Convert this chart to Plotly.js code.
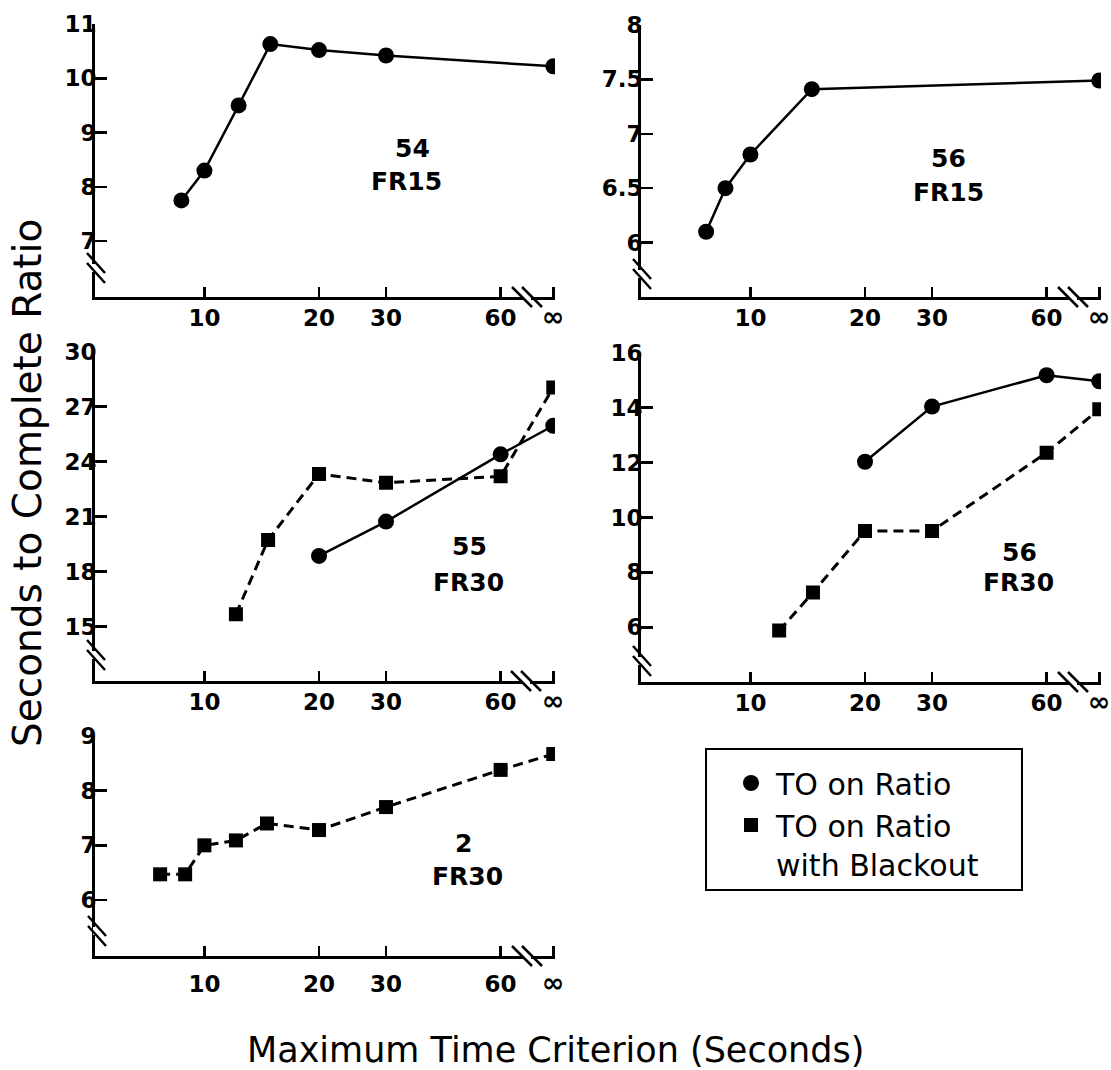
<!DOCTYPE html>
<html>
<head>
<meta charset="utf-8">
<script src="https://cdn.plot.ly/plotly-3.0.1.min.js"></script>
<style>html,body{margin:0;padding:0;background:#fff;}#chart{width:1111px;height:1070px;}</style>
</head>
<body>
<div id="chart"></div>
<script>
// ---- Data ----
// The "∞" condition is drawn at this x value on the log axis, past the axis break.
const INF_X = 82.5;
const xTickVals = [10, 20, 30, 60, INF_X];
const xTickText = ['10', '20', '30', '60', '<span style="font-size:27px">\u221e</span>'];

// Subject 54, FR15 (TO on Ratio)
const s54fr15_x = [8.7, 10, 12.3, 14.9, 20, 30, INF_X];
const s54fr15_ratio = [7.75, 8.3, 9.5, 10.63, 10.52, 10.42, 10.22];

// Subject 56, FR15 (TO on Ratio)
const s56fr15_x = [7.65, 8.6, 10, 14.5, INF_X];
const s56fr15_ratio = [6.1, 6.5, 6.81, 7.41, 7.49];

// Subject 55, FR30
const s55fr30_ratio_x = [20, 30, 60, INF_X];
const s55fr30_ratio = [18.86, 20.73, 24.4, 25.96];
const s55fr30_black_x = [12.1, 14.7, 20, 30, 60, INF_X];
const s55fr30_black = [15.68, 19.73, 23.33, 22.85, 23.2, 28.04];

// Subject 56, FR30
const s56fr30_ratio_x = [20, 30, 60, INF_X];
const s56fr30_ratio = [12.03, 14.04, 15.18, 14.96];
const s56fr30_black_x = [11.9, 14.6, 20, 30, 60, INF_X];
const s56fr30_black = [5.88, 7.27, 9.51, 9.51, 12.36, 13.94];

// Subject 2, FR30 (TO on Ratio with Blackout)
const s2fr30_black_x = [7.65, 8.9, 10, 12.1, 14.6, 20, 30, 60, INF_X];
const s2fr30_black = [6.47, 6.47, 7.0, 7.09, 7.4, 7.28, 7.7, 8.38, 8.67];

// Y tick values per panel
const yTicks1 = [7, 8, 9, 10, 11];
const yTicks2 = [6, 6.5, 7, 7.5, 8];
const yTicks3 = [15, 18, 21, 24, 27, 30];
const yTicks4 = [6, 8, 10, 12, 14, 16];
const yTicks5 = [6, 7, 8, 9];

const seriesNames = ['TO on Ratio', 'TO on Ratio<br>with Blackout'];

// ---- Helpers ----
const W = 1111, H = 1070;
const px = x => x / W;
const py = y => 1 - y / H;

const circleTrace = (x, y, xa, ya) => ({
  x: x, y: y, xaxis: xa, yaxis: ya, type: 'scatter', mode: 'lines+markers',
  line: {color: 'black', width: 2.5},
  marker: {symbol: 'circle', size: 16, color: 'black'},
  showlegend: false, hoverinfo: 'skip'
});
const squareTrace = (x, y, xa, ya) => ({
  x: x, y: y, xaxis: xa, yaxis: ya, type: 'scatter', mode: 'lines+markers',
  line: {color: 'black', width: 3, dash: '10px,6px'},
  marker: {symbol: 'square', size: 14, color: 'black'},
  showlegend: false, hoverinfo: 'skip'
});

const data = [
  circleTrace(s54fr15_x, s54fr15_ratio, 'x', 'y'),
  circleTrace(s56fr15_x, s56fr15_ratio, 'x2', 'y2'),
  squareTrace(s55fr30_black_x, s55fr30_black, 'x3', 'y3'),
  circleTrace(s55fr30_ratio_x, s55fr30_ratio, 'x3', 'y3'),
  squareTrace(s56fr30_black_x, s56fr30_black, 'x4', 'y4'),
  circleTrace(s56fr30_ratio_x, s56fr30_ratio, 'x4', 'y4'),
  squareTrace(s2fr30_black_x, s2fr30_black, 'x5', 'y5'),
  // legend entries (markers only)
  {x: [null], y: [null], xaxis: 'x', yaxis: 'y', type: 'scatter', mode: 'markers',
   marker: {symbol: 'circle', size: 16, color: 'black'}, name: seriesNames[0],
   legendgroup: 'a', showlegend: true},
  {x: [null], y: [null], xaxis: 'x', yaxis: 'y', type: 'scatter', mode: 'markers',
   marker: {symbol: 'square', size: 14, color: 'black'}, name: seriesNames[1],
   legendgroup: 'b', showlegend: true}
];

const tickFont = {family: 'DejaVu Sans', size: 23, weight: 'bold', color: 'black'};
const LEFT = [px(95), px(555)];
const RIGHT = [px(641), px(1101)];
const XRANGE = [0.7126, 1.921];

function xAxis(domain, anchor, standoff) {
  return {
    type: 'log', domain: domain, anchor: anchor, range: XRANGE,
    tickmode: 'array', tickvals: xTickVals, ticktext: xTickText,
    ticks: 'inside', ticklen: 10, tickwidth: 2.5, tickcolor: 'black',
    showline: true, linewidth: 3, linecolor: 'black',
    showgrid: false, zeroline: false, tickfont: tickFont,
    ticklabelstandoff: standoff, fixedrange: true
  };
}
function yAxis(domain, anchor, range, ticks) {
  return {
    domain: domain, anchor: anchor, range: range,
    tickmode: 'array', tickvals: ticks, ticktext: ticks.map(String),
    ticks: 'inside', ticklen: 12, tickwidth: 2.5, tickcolor: 'black',
    showline: true, linewidth: 3, linecolor: 'black',
    showgrid: false, zeroline: false, tickfont: tickFont,
    ticklabelstandoff: -9, fixedrange: true
  };
}

// axis-break decorations (pixel positions)
function yBreak(cx, cy) {
  return [
    {type: 'rect', xref: 'paper', yref: 'paper', x0: px(cx - 4), x1: px(cx + 4), y0: py(cy - 4), y1: py(cy + 4),
     fillcolor: 'white', line: {width: 0}},
    {type: 'line', xref: 'paper', yref: 'paper', x0: px(cx - 9), y0: py(cy - 15), x1: px(cx + 9), y1: py(cy + 5),
     line: {color: 'black', width: 2.5}},
    {type: 'line', xref: 'paper', yref: 'paper', x0: px(cx - 9), y0: py(cy - 5), x1: px(cx + 9), y1: py(cy + 15),
     line: {color: 'black', width: 2.5}}
  ];
}
function xBreak(cx, cy) {
  return [
    {type: 'rect', xref: 'paper', yref: 'paper', x0: px(cx - 4), x1: px(cx + 4), y0: py(cy - 4), y1: py(cy + 4),
     fillcolor: 'white', line: {width: 0}},
    {type: 'line', xref: 'paper', yref: 'paper', x0: px(cx - 15), y0: py(cy - 10), x1: px(cx + 5), y1: py(cy + 10),
     line: {color: 'black', width: 2.5}},
    {type: 'line', xref: 'paper', yref: 'paper', x0: px(cx - 5), y0: py(cy - 10), x1: px(cx + 15), y1: py(cy + 10),
     line: {color: 'black', width: 2.5}}
  ];
}

const shapes = [].concat(
  yBreak(96, 268), xBreak(527, 297),
  yBreak(642, 274), xBreak(1073, 297),
  yBreak(96, 655), xBreak(526, 681),
  yBreak(642, 661), xBreak(1073, 682),
  yBreak(97, 931), xBreak(527, 956),
  [{type: 'rect', xref: 'paper', yref: 'paper', x0: px(706), x1: px(1022), y0: py(890), y1: py(749),
    line: {color: 'black', width: 2}, fillcolor: 'rgba(0,0,0,0)'}]
);

const labelFont = {family: 'DejaVu Sans', size: 25, weight: 'bold', color: 'black'};
const lab = (text, x, y) => ({text: text, xref: 'paper', yref: 'paper', x: px(x), y: py(y),
  xanchor: 'center', yanchor: 'middle', showarrow: false, font: labelFont});

const annotations = [
  lab('54', 412, 148), lab('FR15', 406, 181),
  lab('56', 948, 158), lab('FR15', 948, 193),
  lab('55', 469, 546), lab('FR30', 468, 582),
  lab('56', 1020, 552), lab('FR30', 1018, 582),
  lab('2', 463, 843), lab('FR30', 467, 877),
  {text: 'Maximum Time Criterion (Seconds)', xref: 'paper', yref: 'paper', x: px(555), y: py(1050),
   xanchor: 'center', yanchor: 'middle', showarrow: false,
   font: {family: 'DejaVu Sans', size: 35, color: 'black'}},
  {text: 'Seconds to Complete Ratio', xref: 'paper', yref: 'paper', x: px(28), y: py(483),
   xanchor: 'center', yanchor: 'middle', showarrow: false, textangle: -90,
   font: {family: 'DejaVu Sans', size: 39, color: 'black'}}
];

const layout = {
  width: W, height: H,
  margin: {l: 0, r: 0, t: 0, b: 0},
  paper_bgcolor: 'white', plot_bgcolor: 'white',
  showlegend: true,
  legend: {x: px(726), y: py(757), xanchor: 'left', yanchor: 'top',
    bgcolor: 'rgba(0,0,0,0)', borderwidth: 0, itemwidth: 40, valign: 'top',
    tracegroupgap: 0, font: {family: 'DejaVu Sans', size: 30, color: 'black'}},
  xaxis: xAxis(LEFT, 'y', -2),
  yaxis: yAxis([py(297), py(24)], 'x', [5.97, 11], yTicks1),
  xaxis2: xAxis(RIGHT, 'y2', -2),
  yaxis2: yAxis([py(297), py(25)], 'x2', [5.5, 8], yTicks2),
  xaxis3: xAxis(LEFT, 'y3', -1),
  yaxis3: yAxis([py(680.7), py(351.7)], 'x3', [12.05, 30], yTicks3),
  xaxis4: xAxis(RIGHT, 'y4', -1),
  yaxis4: yAxis([py(681.7), py(352.7)], 'x4', [4.02, 16], yTicks4),
  xaxis5: xAxis(LEFT, 'y5', 5),
  yaxis5: yAxis([py(956), py(736)], 'x5', [4.976, 9], yTicks5),
  shapes: shapes,
  annotations: annotations
};

Plotly.newPlot('chart', data, layout, {displayModeBar: false, staticPlot: true});
</script>
</body>
</html>
